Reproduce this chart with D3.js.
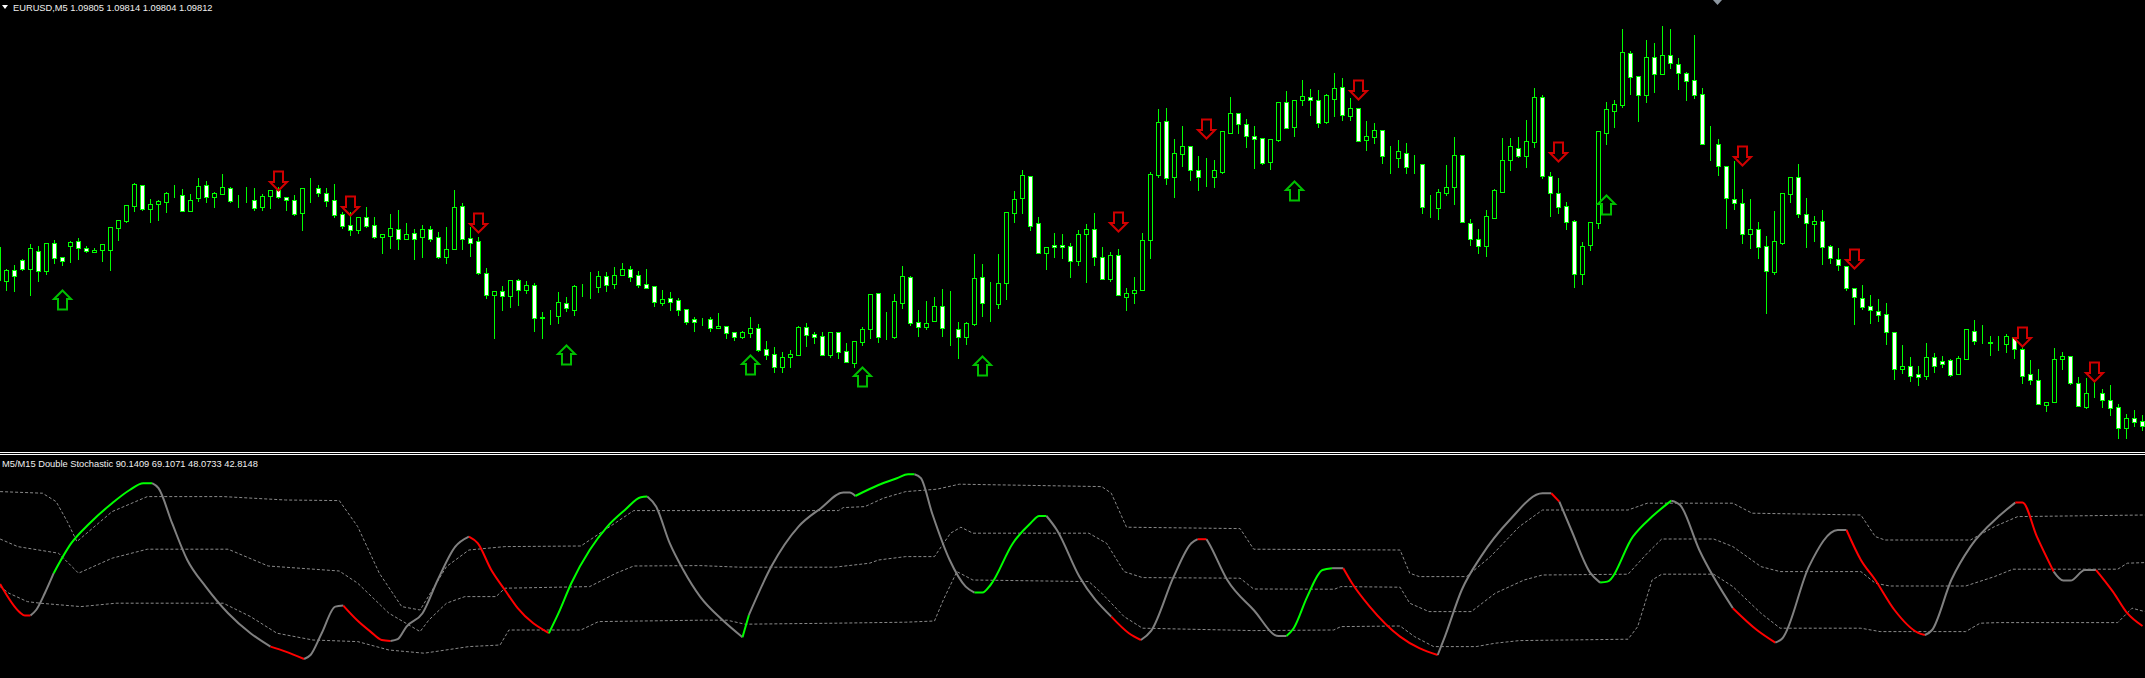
<!DOCTYPE html>
<html>
<head>
<meta charset="utf-8">
<script src="https://cdnjs.cloudflare.com/ajax/libs/d3/7.8.5/d3.min.js"></script>
<style>
body { margin: 0; background: #000; overflow: hidden; }
text { font-family: 'Liberation Sans', Arial, sans-serif; }
</style>
</head>
<body>
<svg id="chart" width="2145" height="678"></svg>
<script>
// EURUSD M5 bars, first bar index is -1 (partly cut at the left edge)
var firstBar = -1;
var opens = [1.09964,1.09963,1.09974,1.09984,1.09975,1.09993,1.09973,1.10001,1.09987,1.09998,1.10003,1.09996,1.09992,1.09994,1.09994,1.10016,1.10023,1.10038,1.10059,1.10035,1.10040,1.10042,1.10050,1.10049,1.10033,1.10046,1.10059,1.10047,1.10050,1.10056,1.10043,1.10043,1.10044,1.10037,1.10048,1.10054,1.10047,1.10044,1.10031,1.10055,1.10056,1.10051,1.10044,1.10030,1.10019,1.10014,1.10027,1.10019,1.10007,1.10008,1.10015,1.10005,1.10011,1.10007,1.10015,1.10007,1.09987,1.09995,1.10038,1.10006,1.10003,1.09971,1.09949,1.09953,1.09948,1.09964,1.09954,1.09959,1.09927,1.09928,1.09928,1.09941,1.09934,1.09958,1.09958,1.09957,1.09968,1.09960,1.09969,1.09975,1.09969,1.09960,1.09958,1.09941,1.09946,1.09944,1.09935,1.09925,1.09925,1.09925,1.09916,1.09918,1.09912,1.09907,1.09911,1.09916,1.09895,1.09890,1.09877,1.09887,1.09889,1.09917,1.09910,1.09908,1.09889,1.09912,1.09893,1.09881,1.09902,1.09915,1.09951,1.09907,1.09907,1.09941,1.09967,1.09922,1.09917,1.09923,1.09938,1.09916,1.09915,1.09907,1.09920,1.09967,1.09940,1.09940,1.09961,1.10031,1.10046,1.10068,1.10021,1.09991,1.09999,1.09999,1.09998,1.09983,1.10010,1.10015,1.09987,1.09965,1.09989,1.09947,1.09951,1.09954,1.10004,1.10069,1.10123,1.10067,1.10090,1.10098,1.10074,1.10067,1.10067,1.10072,1.10111,1.10131,1.10120,1.10108,1.10106,1.10082,1.10104,1.10142,1.10117,1.10144,1.10147,1.10144,1.10122,1.10145,1.10157,1.10128,1.10136,1.10104,1.10107,1.10114,1.10087,1.10086,1.10091,1.10079,1.10080,1.10037,1.10036,1.10051,1.10057,1.10089,1.10021,1.10005,1.09998,1.10026,1.10052,1.10084,1.10096,1.10088,1.10102,1.10147,1.10068,1.10051,1.10038,1.10023,1.09970,1.09999,1.10021,1.10111,1.10133,1.10139,1.10191,1.10168,1.10149,1.10187,1.10170,1.10189,1.10180,1.10171,1.10164,1.10150,1.10100,1.10100,1.10078,1.10045,1.10041,1.10010,1.10015,1.09998,1.09972,1.10001,1.10050,1.10067,1.10030,1.10020,1.10023,1.09998,1.09985,1.09978,1.09956,1.09946,1.09938,1.09933,1.09930,1.09912,1.09875,1.09878,1.09870,1.09868,1.09887,1.09883,1.09884,1.09870,1.09885,1.09913,1.09904,1.09902,1.09900,1.09900,1.09907,1.09895,1.09870,1.09864,1.09839,1.09842,1.09885,1.09888,1.09861,1.09837,1.09850,1.09851,1.09844,1.09837,1.09816,1.09826,1.09823];
var highs = [1.09997,1.09975,1.09979,1.09985,1.10000,1.09998,1.10001,1.10004,1.09987,1.10003,1.10006,1.09998,1.09996,1.10000,1.10017,1.10024,1.10039,1.10061,1.10059,1.10045,1.10044,1.10052,1.10059,1.10055,1.10050,1.10066,1.10063,1.10052,1.10070,1.10057,1.10049,1.10057,1.10056,1.10050,1.10054,1.10057,1.10047,1.10049,1.10056,1.10066,1.10059,1.10056,1.10060,1.10032,1.10032,1.10027,1.10037,1.10027,1.10010,1.10030,1.10034,1.10021,1.10015,1.10019,1.10018,1.10012,1.10017,1.10054,1.10041,1.10017,1.10007,1.09976,1.09953,1.09958,1.09964,1.09965,1.09963,1.09961,1.09932,1.09934,1.09952,1.09947,1.09959,1.09960,1.09972,1.09973,1.09972,1.09977,1.09981,1.09978,1.09973,1.09975,1.09958,1.09954,1.09952,1.09946,1.09935,1.09927,1.09926,1.09927,1.09931,1.09918,1.09912,1.09913,1.09927,1.09920,1.09903,1.09897,1.09892,1.09894,1.09918,1.09921,1.09912,1.09912,1.09912,1.09912,1.09901,1.09903,1.09917,1.09950,1.09951,1.09932,1.09950,1.09978,1.09968,1.09934,1.09943,1.09947,1.09955,1.09953,1.09922,1.09922,1.09990,1.09980,1.09962,1.09990,1.10032,1.10053,1.10074,1.10068,1.10027,1.09997,1.10011,1.10010,1.10001,1.10014,1.10020,1.10031,1.09997,1.09992,1.09995,1.09956,1.09967,1.10011,1.10072,1.10135,1.10136,1.10105,1.10118,1.10098,1.10088,1.10086,1.10084,1.10113,1.10147,1.10131,1.10125,1.10118,1.10106,1.10105,1.10142,1.10153,1.10144,1.10164,1.10155,1.10154,1.10150,1.10171,1.10166,1.10146,1.10136,1.10123,1.10121,1.10114,1.10098,1.10104,1.10101,1.10089,1.10080,1.10049,1.10055,1.10079,1.10107,1.10089,1.10025,1.10015,1.10034,1.10055,1.10106,1.10106,1.10107,1.10124,1.10156,1.10149,1.10072,1.10066,1.10042,1.10024,1.10002,1.10022,1.10113,1.10142,1.10144,1.10215,1.10193,1.10168,1.10204,1.10201,1.10218,1.10215,1.10186,1.10172,1.10209,1.10156,1.10118,1.10105,1.10078,1.10083,1.10055,1.10045,1.10022,1.10008,1.10033,1.10051,1.10067,1.10080,1.10046,1.10028,1.10034,1.09999,1.09996,1.09978,1.09956,1.09959,1.09949,1.09945,1.09941,1.09912,1.09899,1.09887,1.09878,1.09901,1.09891,1.09888,1.09885,1.09888,1.09915,1.09924,1.09919,1.09908,1.09908,1.09910,1.09907,1.09897,1.09884,1.09875,1.09842,1.09896,1.09892,1.09888,1.09867,1.09866,1.09863,1.09855,1.09859,1.09840,1.09830,1.09834,1.09829];
var lows = [1.09964,1.09954,1.09953,1.09974,1.09949,1.09963,1.09970,1.09981,1.09979,1.09982,1.09985,1.09992,1.09992,1.09983,1.09974,1.10004,1.10022,1.10033,1.10034,1.10022,1.10024,1.10032,1.10047,1.10033,1.10033,1.10043,1.10042,1.10037,1.10050,1.10042,1.10037,1.10042,1.10034,1.10034,1.10036,1.10046,1.10034,1.10029,1.10014,1.10042,1.10048,1.10038,1.10027,1.10016,1.10009,1.10011,1.10017,1.10006,1.09991,1.09996,1.09995,1.10005,1.09985,1.09987,1.10003,1.09986,1.09981,1.09995,1.09995,1.09988,1.09970,1.09946,1.09906,1.09934,1.09937,1.09939,1.09951,1.09913,1.09906,1.09920,1.09921,1.09933,1.09929,1.09948,1.09946,1.09952,1.09953,1.09956,1.09969,1.09963,1.09957,1.09956,1.09938,1.09939,1.09934,1.09929,1.09920,1.09913,1.09919,1.09913,1.09916,1.09906,1.09904,1.09906,1.09907,1.09893,1.09885,1.09872,1.09872,1.09877,1.09889,1.09898,1.09901,1.09889,1.09887,1.09886,1.09882,1.09877,1.09899,1.09906,1.09902,1.09905,1.09906,1.09936,1.09919,1.09908,1.09915,1.09923,1.09908,1.09899,1.09886,1.09900,1.09919,1.09928,1.09923,1.09936,1.09945,1.10022,1.10031,1.10014,1.09991,1.09975,1.09987,1.09986,1.09967,1.09979,1.09962,1.09979,1.09965,1.09963,1.09949,1.09934,1.09941,1.09954,1.09986,1.10067,1.10060,1.10047,1.10078,1.10064,1.10054,1.10058,1.10057,1.10071,1.10111,1.10111,1.10097,1.10076,1.10080,1.10075,1.10103,1.10116,1.10108,1.10139,1.10129,1.10117,1.10121,1.10128,1.10124,1.10124,1.10103,1.10094,1.10101,1.10081,1.10071,1.10077,1.10071,1.10071,1.10031,1.10027,1.10025,1.10049,1.10040,1.10022,1.09999,1.09991,1.09988,1.10026,1.10052,1.10074,1.10087,1.10077,1.10097,1.10066,1.10028,1.10031,1.10015,1.09957,1.09960,1.09994,1.10016,1.10100,1.10117,1.10137,1.10150,1.10123,1.10142,1.10152,1.10170,1.10176,1.10155,1.10144,1.10146,1.10100,1.10084,1.10069,1.10016,1.10035,1.10001,1.09996,1.09986,1.09931,1.09970,1.10000,1.10042,1.10027,1.09997,1.10003,1.09980,1.09981,1.09974,1.09954,1.09920,1.09935,1.09921,1.09923,1.09900,1.09865,1.09871,1.09863,1.09859,1.09865,1.09872,1.09877,1.09868,1.09870,1.09885,1.09900,1.09901,1.09889,1.09894,1.09892,1.09886,1.09861,1.09860,1.09840,1.09833,1.09842,1.09875,1.09860,1.09838,1.09836,1.09847,1.09837,1.09829,1.09806,1.09806,1.09818,1.09814];
var closes = [1.09997,1.09974,1.09968,1.09975,1.09996,1.09973,1.10001,1.09986,1.09983,1.10002,1.09996,1.09993,1.09994,1.10000,1.10017,1.10024,1.10039,1.10060,1.10035,1.10040,1.10043,1.10051,1.10050,1.10033,1.10044,1.10058,1.10047,1.10051,1.10057,1.10043,1.10043,1.10043,1.10036,1.10048,1.10054,1.10047,1.10044,1.10030,1.10056,1.10055,1.10051,1.10043,1.10029,1.10018,1.10014,1.10027,1.10018,1.10007,1.10010,1.10016,1.10005,1.10010,1.10005,1.10015,1.10005,1.09987,1.09995,1.10037,1.10005,1.10001,1.09971,1.09949,1.09953,1.09948,1.09964,1.09954,1.09959,1.09926,1.09926,1.09928,1.09942,1.09936,1.09958,1.09958,1.09958,1.09968,1.09959,1.09969,1.09975,1.09967,1.09959,1.09956,1.09942,1.09945,1.09942,1.09934,1.09922,1.09922,1.09925,1.09916,1.09918,1.09911,1.09907,1.09912,1.09916,1.09894,1.09889,1.09877,1.09887,1.09890,1.09917,1.09909,1.09907,1.09889,1.09912,1.09892,1.09882,1.09903,1.09915,1.09950,1.09907,1.09907,1.09943,1.09968,1.09921,1.09917,1.09921,1.09938,1.09916,1.09916,1.09907,1.09921,1.09966,1.09941,1.09940,1.09961,1.10032,1.10045,1.10069,1.10018,1.09991,1.09997,1.09997,1.09997,1.09983,1.10010,1.10015,1.09987,1.09965,1.09989,1.09949,1.09951,1.09954,1.10004,1.10070,1.10122,1.10066,1.10091,1.10098,1.10074,1.10067,1.10067,1.10074,1.10113,1.10131,1.10120,1.10108,1.10105,1.10081,1.10105,1.10142,1.10116,1.10144,1.10148,1.10144,1.10121,1.10149,1.10156,1.10129,1.10136,1.10103,1.10108,1.10114,1.10088,1.10087,1.10093,1.10077,1.10079,1.10037,1.10037,1.10052,1.10057,1.10089,1.10022,1.10005,1.09998,1.10028,1.10054,1.10084,1.10098,1.10088,1.10103,1.10147,1.10068,1.10051,1.10037,1.10022,1.09970,1.09998,1.10022,1.10113,1.10135,1.10140,1.10192,1.10167,1.10149,1.10187,1.10170,1.10189,1.10181,1.10171,1.10163,1.10149,1.10100,1.10100,1.10078,1.10046,1.10041,1.10010,1.10015,1.09997,1.09973,1.10003,1.10051,1.10067,1.10030,1.10021,1.10023,1.09997,1.09986,1.09979,1.09956,1.09947,1.09937,1.09934,1.09929,1.09912,1.09875,1.09878,1.09868,1.09867,1.09887,1.09878,1.09880,1.09869,1.09886,1.09915,1.09903,1.09904,1.09901,1.09900,1.09908,1.09895,1.09868,1.09864,1.09840,1.09842,1.09885,1.09888,1.09861,1.09838,1.09851,1.09850,1.09844,1.09836,1.09816,1.09826,1.09822,1.09818];

// signal arrows: bar index and price of the arrow tip
var upBars = [7, 70, 93, 107, 122, 161, 200];
var upPrices = [1.09954, 1.09899, 1.09889, 1.09877, 1.09888, 1.10063, 1.10049];
var downBars = [34, 43, 59, 139, 150, 169, 194, 217, 231, 252, 261];
var downPrices = [1.10054, 1.10029, 1.10012, 1.10013, 1.10106, 1.10145, 1.10083, 1.10079, 1.09976, 1.09898, 1.09863];

// indicator: main stochastic line (n = neutral, g = rising, r = falling)
var mainBars = [-0.8,1.7,2.3,3.0,3.7,4.8,5.9,8.1,10.4,13.2,15.4,17.1,18.2,19.0,20.7,22.6,24.9,27.7,30.5,33.0,34.9,37.2,38.0,39.4,41.1,42.1,43.8,45.5,46.9,48.0,48.9,50.0,52.0,53.9,56.1,57.8,58.9,60.6,62.3,63.9,67.8,69.0,70.6,72.9,75.1,77.3,79.3,80.1,81.2,82.9,84.6,86.7,89.5,92.0,92.8,95.6,99.0,101.8,104.6,105.4,106.1,109.0,111.3,112.7,113.5,114.3,115.7,117.9,119.9,121.0,122.0,123.0,125.8,128.0,129.1,130.0,131.3,134.1,138.1,140.3,141.8,143.1,145.9,148.1,148.9,150.0,150.3,152.6,155.9,159.0,160.0,160.9,162.6,164.5,165.7,167.1,168.2,170.4,174.2,176.6,178.9,179.8,181.9,184.3,187.9,192.0,193.1,194.1,195.6,198.0,199.2,200.1,203.3,205.7,208.1,209.2,211.6,215.8,218.8,221.1,222.0,225.3,228.9,230.0,231.8,233.6,236.0,238.9,239.8,240.7,243.1,245.5,249.0,251.1,252.0,253.8,255.9,257.1,258.0,259.8,261.2,263.3,265.1,267.0];
var mainValues = [43,28.7,27.2,27.2,30,38.5,48.4,63.4,73.4,83.4,90,93.4,93.4,90.9,73.4,55,41.7,28.4,18.4,11.7,9.2,5.5,7.5,18.4,31.7,32.2,25,19.2,15,14.5,15.4,21.7,28.4,45,61.7,66.7,63.4,50,40,30.9,18.4,28.4,43.4,60,71.7,80,86.4,86.7,81.7,63.4,50,36.7,25,16.4,27.5,51.7,71.7,80.9,88.7,88.7,87,92.5,95.9,97.9,97.9,95.9,78.4,55,41.7,38.7,38.7,42.5,63.4,73.4,77,77,70,46.7,26.7,18.4,15,19.7,46.7,63.4,65.4,65.4,63.4,45,30,17,17,20.9,36.7,50,50.9,50.9,43.4,31.7,16.7,10.9,7.5,16.7,40,56.7,75,88.4,88.4,84.2,70,48.4,43.7,44.2,66.7,76.7,84.7,82.5,60,30.9,20,13.7,15.9,51.7,70,70,55,45,30,18.7,17.5,20,45,61.7,76.7,83.7,83.7,66.7,49.2,44.7,44.7,50,50,39.2,28.4,22];
var mainColors = ['r','r','r','n','n','n','g','g','g','g','g','g','n','n','n','n','n','n','n','r','r','n','n','n','n','r','r','r','r','n','n','n','n','n','n','r','r','r','r','r','g','g','g','g','g','g','g','n','n','n','n','n','n','g','n','n','n','n','n','n','g','g','g','g','n','n','n','n','n','g','g','g','g','g','g','n','n','n','r','r','n','n','n','n','r','n','n','n','n','n','g','g','g','g','n','r','r','r','r','r','n','n','n','n','n','n','r','n','n','n','g','g','g','g','n','n','n','r','r','n','n','n','n','r','r','r','r','r','n','n','n','n','n','r','r','r','n','n','n','n','r','r','r','r'];

// indicator: three dotted lines
var dot1Bars = [-0.8,4.5,6.2,7.6,8.8,13.2,17.6,27.1,34.9,41.6,43.9,46.6,49.4,51.7,55.0,57.8,62.3,71.8,78.4,86.7,104.0,104.6,107.3,109.6,112.4,116.3,119.1,136.9,138.1,140.0,154.2,155.9,174.2,175.4,176.6,182.5,185.5,189.1,192.0,202.7,205.1,215.8,218.2,231.8,233.6,234.8,245.5,248.5,251.4,267.3];
var dot1Values = [89.2,88.4,84.2,74.2,64.2,79.2,86.7,86.7,85,84.7,71.7,48.4,31.7,30,51.7,60,61.7,62,79.7,79.7,79.7,81.2,81.7,85.9,89.2,90.4,92.9,91.7,88.4,71.4,70.7,60.4,60,48.4,46.7,46.7,56.7,71.7,80,80,83.4,83.4,78.4,77.5,66.7,65,65,71.7,76.7,77.5];
var dot2Bars = [-0.8,1.4,6.5,9.0,13.2,17.6,27.7,32.7,41.6,43.9,47.8,51.7,52.8,55.0,57.3,61.2,62.3,72.9,76.2,78.4,86.7,91.7,103.5,107.9,109.0,112.4,116.0,118.0,119.3,120.8,135.3,137.5,139.7,142.0,154.2,155.9,166.0,166.8,174.2,175.4,177.8,183.1,186.1,189.7,192.0,202.7,205.1,206.9,213.4,215.8,219.3,221.7,231.8,233.6,235.4,244.9,248.5,250.8,263.9,265.1,267.3];
var dot2Values = [65.5,61.7,58.4,48.4,55.9,60.4,60.4,52,49.5,43.4,28.4,19.2,25,33.4,36.7,36.7,40.9,41.7,48.4,52,52.2,51.4,51.4,53.4,55,56.7,56.7,68.4,71.4,68.4,68.4,63.4,49.2,46.2,45.9,40.5,40.4,41.7,41.4,33.4,29.2,29.2,38.4,45,47.5,47.9,58.4,65.5,65.5,61.7,51.7,49.2,49.2,43.4,42,42,46.7,50.4,50.4,53.4,53.7];
var dot3Bars = [-0.8,0.3,2.6,4.2,9.3,13.7,27.1,30.5,33.8,38.3,43.9,47.8,52.2,57.8,61.7,62.8,71.8,74.0,86.7,90.1,92.3,103.5,112.4,116.0,117.1,118.8,120.8,135.3,136.9,139.7,142.0,155.9,165.9,166.8,174.2,176.0,178.4,183.7,186.1,189.1,202.7,203.9,205.7,206.9,213.4,215.8,219.3,221.7,231.8,234.2,244.9,246.7,249.0,263.9,265.7,267.3];
var dot3Values = [41.7,38.4,34.2,33.4,31.7,33.4,33.4,26.7,18.4,15,14.2,10,8.4,11.7,12.5,20,20,24.2,24.9,24.9,22.9,23.4,23.9,24.5,35,49.2,45,44.2,38.4,26.7,20.9,19.7,20,21.7,22,16.7,11.7,11.7,13.4,14.7,15.4,21.7,45,47.9,47.9,41.7,28.4,20.9,20.9,19.2,19.2,23.4,23.7,23.7,30.9,29.2];

var headerText = 'EURUSD,M5  1.09805 1.09814 1.09804 1.09812';
var indicatorText = 'M5/M15 Double Stochastic 90.1409 69.1071 48.0733 42.8148';

var width = 2145;
var height = 678;
var mainBottom = 452;

var svg = d3.select('#chart');
svg.append('rect').attr('width', width).attr('height', height).attr('fill', '#000');

var x = d3.scaleLinear().domain([0, 1]).range([6.5, 14.5]);
var y = d3.scaleLinear().domain([1.09792, 1.10244]).range([mainBottom, 0]);
var yi = d3.scaleLinear().domain([0, 100]).range([670, 470]);

var snap = (v) => Math.round(y(v)) + 0.5;

var candles = d3.range(opens.length).map((i) => ({
    bar: i + firstBar, o: opens[i], h: highs[i], l: lows[i], c: closes[i]
}));

var price = svg.append('g');

// wicks
price.selectAll('.wick')
    .data(candles)
    .enter()
    .append('line')
    .attr('class', 'wick')
    .attr('x1', (d) => x(d.bar))
    .attr('x2', (d) => x(d.bar))
    .attr('y1', (d) => Math.round(y(d.h)))
    .attr('y2', (d) => Math.round(y(d.l)) + 1)
    .attr('stroke', '#00ff00')
    .attr('stroke-width', 1);

// bodies: bull = black, bear = white
price.selectAll('.body')
    .data(candles)
    .enter()
    .append('rect')
    .attr('class', 'body')
    .attr('x', (d) => x(d.bar) - 2)
    .attr('width', 4)
    .attr('y', (d) => snap(Math.max(d.o, d.c)))
    .attr('height', (d) => snap(Math.min(d.o, d.c)) - snap(Math.max(d.o, d.c)))
    .attr('fill', (d) => d.c < d.o ? '#ffffff' : '#000000')
    .attr('stroke', '#00ff00')
    .attr('stroke-width', 1);

// arrows
function arrowPath(cx, ty, dir) {
    var s = dir;
    return 'M' + cx + ',' + ty +
        'L' + (cx + 8.5) + ',' + (ty + s * 8.5) +
        'L' + (cx + 4.5) + ',' + (ty + s * 8.5) +
        'L' + (cx + 4.5) + ',' + (ty + s * 19) +
        'L' + (cx - 4.5) + ',' + (ty + s * 19) +
        'L' + (cx - 4.5) + ',' + (ty + s * 8.5) +
        'L' + (cx - 8.5) + ',' + (ty + s * 8.5) + 'Z';
}

price.selectAll('.up')
    .data(upBars)
    .enter()
    .append('path')
    .attr('class', 'up')
    .attr('d', (b, i) => arrowPath(x(b), Math.round(y(upPrices[i])) + 0.5, 1))
    .attr('fill', 'none')
    .attr('stroke', '#00c000')
    .attr('stroke-width', 2);

price.selectAll('.down')
    .data(downBars)
    .enter()
    .append('path')
    .attr('class', 'down')
    .attr('d', (b, i) => arrowPath(x(b), Math.round(y(downPrices[i])) + 0.5, -1))
    .attr('fill', 'none')
    .attr('stroke', '#d00000')
    .attr('stroke-width', 2);

// header
svg.append('path')
    .attr('d', 'M2,5L8,5L5,9Z')
    .attr('fill', '#ffffff');

svg.append('text')
    .attr('x', 13)
    .attr('y', 10.5)
    .attr('fill', '#f0f0f0')
    .style('font-size', '9.3px')
    .text(headerText);

// shift marker at the top
svg.append('path')
    .attr('d', 'M1713,0L1722,0L1717.5,5Z')
    .attr('fill', '#8c96a0');

// window separator
svg.append('line').attr('x1', 0).attr('x2', width).attr('y1', 452.5).attr('y2', 452.5)
    .attr('stroke', '#ffffff').attr('stroke-width', 1);
svg.append('line').attr('x1', 0).attr('x2', width).attr('y1', 454.5).attr('y2', 454.5)
    .attr('stroke', '#ffffff').attr('stroke-width', 1);

var ind = svg.append('g');

var dotted = [[dot1Bars, dot1Values], [dot2Bars, dot2Values], [dot3Bars, dot3Values]];
var dotLine = d3.line()
    .x((d) => x(d[0]))
    .y((d) => yi(d[1]));

dotted.forEach(function (s) {
    var pts = s[0].map((b, i) => [b, s[1][i]]);
    ind.append('path')
        .attr('d', dotLine(pts))
        .attr('fill', 'none')
        .attr('stroke', '#8a8a8a')
        .attr('stroke-width', 1)
        .attr('stroke-dasharray', '3,2');
});

// main line split in coloured runs
var colorOf = { n: '#808080', g: '#00ff00', r: '#ff0000' };
var pts = mainBars.map((b, i) => ({ b: b, v: mainValues[i], c: mainColors[i] }));
var runs = [];
pts.forEach(function (p, i) {
    if (i === 0 || p.c !== pts[i - 1].c) runs.push({ c: p.c, pts: [] });
    runs[runs.length - 1].pts.push(p);
});
runs.forEach(function (r, i) {
    if (i < runs.length - 1) r.pts.push(runs[i + 1].pts[0]);
});

var mainLine = d3.line()
    .x((d) => x(d.b))
    .y((d) => yi(d.v))
    .curve(d3.curveMonotoneX);

runs.forEach(function (r) {
    ind.append('path')
        .attr('d', mainLine(r.pts))
        .attr('fill', 'none')
        .attr('stroke', colorOf[r.c])
        .attr('stroke-width', 2)
        .attr('stroke-linejoin', 'round');
});

svg.append('text')
    .attr('x', 2)
    .attr('y', 467)
    .attr('fill', '#f0f0f0')
    .style('font-size', '9.3px')
    .text(indicatorText);
</script>
</body>
</html>
